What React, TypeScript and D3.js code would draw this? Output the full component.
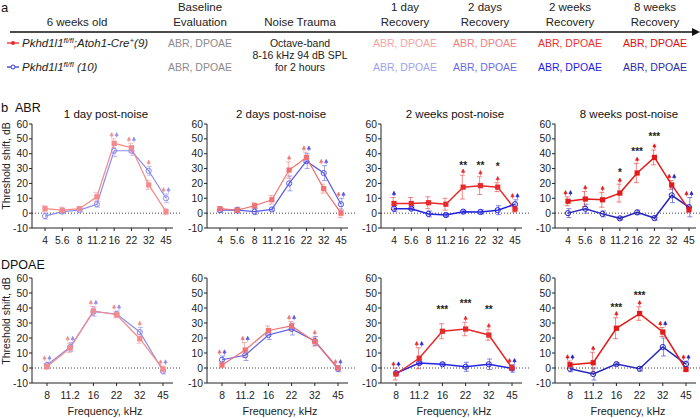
import React from "react";
import * as d3 from "d3";

const abrFreqs = ["4", "5.6", "8", "11.2", "16", "22", "32", "45"];
const dpoaeFreqs = ["8", "11.2", "16", "22", "32", "45"];
const panelTitles = ["1 day post-noise", "2 days post-noise", "2 weeks post-noise", "8 weeks post-noise"];
const yTicks = [-10, 0, 10, 20, 30, 40, 50, 60];

// ABR means / SEM
const abrRed1d = [3, 2, 3, 11, 47, 44, 19, 1];
const abrBlue1d = [-2, 1, 2, 6, 42, 42, 28.5, 10];
const abrRedErr1d = [2, 2, 1, 3, 3, 3, 3, 2];
const abrBlueErr1d = [2, 1, 1, 2, 4, 3, 3, 3];
const abrFlags1d = ["", "", "", "", "rb", "rb", "r", "rb"];

const abrRed2d = [3, 2, 5, 9, 29, 37.5, 16.5, 0];
const abrBlue2d = [2, 2, 1, 2.5, 20, 35, 27, 6];
const abrRedErr2d = [1.5, 1.5, 2, 3, 5.5, 3.5, 3, 3];
const abrBlueErr2d = [1.5, 2, 2, 1, 5, 5, 5, 4];
const abrFlags2d = ["", "", "", "", "r", "rb", "rb", "rb"];

const abrRed2w = [6.5, 6.5, 7, 6, 17.5, 18.5, 17.5, 2.7];
const abrBlue2w = [3, 3, -0.5, -1.3, 1, 0.8, 2, 6];
const abrRedErr2w = [4, 4, 4, 4, 8, 6, 3, 2];
const abrBlueErr2w = [2, 1, 2, 1, 1, 1.5, 3, 3];
const abrFlags2w = ["b", "", "", "", "r", "r", "r", "rb"];
const abrStars2w = [{ i: 4, t: "**", v: 33.5 }, { i: 5, t: "**", v: 33.5 }, { i: 6, t: "*", v: 33 }];

const abrRed8w = [8, 9.5, 9, 13.5, 27, 37.5, 19, 2.5];
const abrBlue8w = [0, 3, -0.5, -3.5, 0.5, -3.3, 12, 4];
const abrRedErr8w = [3, 5, 5, 6, 6.5, 5, 3, 2];
const abrBlueErr8w = [3, 3, 2, 1, 1.5, 1.5, 5, 6.5];
const abrFlags8w = ["rb", "r", "r", "r", "r", "r", "rb", "rb"];
const abrStars8w = [{ i: 3, t: "*", v: 29 }, { i: 4, t: "***", v: 43 }, { i: 5, t: "***", v: 53 }];

// DPOAE means / SEM
const dpRed1d = [1, 13.3, 38, 35.5, 19.5, -0.7];
const dpBlue1d = [2, 14, 37.5, 36, 24, -2];
const dpRedErr1d = [2, 3, 3, 2, 3, 2];
const dpBlueErr1d = [2, 3, 3, 2, 3, 2];
const dpFlags1d = ["rb", "rb", "rb", "rb", "r", "rb"];

const dpRed2d = [2, 12, 25, 28, 17.5, 0];
const dpBlue2d = [5.5, 8.5, 22, 26, 18, -0.5];
const dpRedErr2d = [2, 5, 3, 3, 3, 1];
const dpBlueErr2d = [2.5, 3.5, 3, 4, 3, 2];
const dpFlags2d = ["rb", "rb", "", "rb", "r", "rb"];

const dpRed2w = [-4, 6.5, 24.5, 26, 22, 0];
const dpBlue2w = [-3.5, 3.3, 2.5, 0.8, 2.5, -0.3];
const dpRedErr2w = [4, 7, 5, 4.5, 3.5, 1.5];
const dpBlueErr2w = [1, 1, 1, 3, 3.5, 2.5];
const dpFlags2w = ["rb", "rb", "", "r", "r", "rb"];
const dpStars2w = [{ i: 2, t: "***", v: 41 }, { i: 3, t: "***", v: 45 }, { i: 4, t: "**", v: 40.6 }];

const dpRed8w = [2.2, 3.5, 26.5, 36.3, 24, -1];
const dpBlue8w = [-0.5, -4, 2.6, -0.5, 14, 2.6];
const dpRedErr8w = [2.5, 7, 7, 4.5, 3, 1];
const dpBlueErr8w = [2, 4, 1, 1.5, 6, 2];
const dpFlags8w = ["rb", "r", "r", "r", "rb", "rb"];
const dpStars8w = [{ i: 2, t: "***", v: 42 }, { i: 3, t: "***", v: 50 }];

const recoveryCols = ["1 day", "2 days", "2 weeks", "8 weeks"];
const redShades = ["#f58a8a", "#f07272", "#e82a2a", "#e21a1a"];
const blueShades = ["#8c8cf0", "#5a5ae6", "#2424e0", "#2626bc"];
const headRed = ["#f4a4a4", "#f08282", "#e83232", "#e01010"];
const headBlue = ["#a0a0f4", "#6a6ae8", "#1e1ee6", "#2a2ab0"];

const FONT = "'Liberation Sans', Arial, Helvetica, sans-serif";
const AX = [32, 207, 381, 555];

type Star = { i: number; t: string; v: number };

function Panel(props: {
  ax: number; freqs: string[]; y: d3.ScaleLinear<number, number>; xPad: [number, number];
  red: number[]; blue: number[]; redErr: number[]; blueErr: number[]; flags: string[];
  stars?: Star[]; rc: string; bc: string; title?: string; yLabel: boolean; yLabelY: number; xLabel: boolean;
}) {
  const { ax, freqs, y, red, blue, redErr, blueErr, flags, stars, rc, bc, title, yLabel, xLabel } = props;
  const x = d3.scalePoint<string>().domain(freqs).range([ax + props.xPad[0], ax + props.xPad[1]]);
  const y0 = y(-10), y60 = y(60);
  const line = d3.line<number>().x((_, i) => x(freqs[i]) as number).y((d) => y(d));
  const thick = rc === redShades[2] || rc === redShades[3] ? 1.5 : 1.2;
  return (
    <g fontFamily={FONT}>
      {title && (
        <text x={ax + 74} y={y60 - 6} textAnchor="middle" fontSize={11.5} fill="#111">{title}</text>
      )}
      <line x1={ax} x2={ax + 148} y1={y(0)} y2={y(0)} stroke="#444" strokeWidth={1} strokeDasharray="1,2" />
      <line x1={ax} x2={ax} y1={y60} y2={y0} stroke="#222" strokeWidth={1} />
      <line x1={ax} x2={ax + 141} y1={y0} y2={y0} stroke="#222" strokeWidth={1} />
      {yTicks.map((t) => (
        <g key={t}>
          <line x1={ax - 3} x2={ax} y1={y(t)} y2={y(t)} stroke="#222" />
          <text x={ax - 4} y={y(t) + 3.6} textAnchor="end" fontSize={10.3} fill="#222">{t}</text>
        </g>
      ))}
      {freqs.map((f) => (
        <g key={f}>
          <line x1={x(f)} x2={x(f)} y1={y0} y2={y0 + 3} stroke="#222" />
          <text x={x(f)} y={y0 + 15.5} textAnchor="middle" fontSize={10.3} fill="#222">{f}</text>
        </g>
      ))}
      {yLabel && (
        <text transform={`translate(10,${props.yLabelY}) rotate(-90)`} textAnchor="middle" fontSize={10.5} fill="#222">
          Threshold shift, dB
        </text>
      )}
      {xLabel && (
        <text x={ax + 73} y={y0 + 32} textAnchor="middle" fontSize={10.8} fill="#222">Frequency, kHz</text>
      )}
      {[{ v: red, e: redErr, c: rc, dx: -0.8 }, { v: blue, e: blueErr, c: bc, dx: 0.8 }].map((s, k) => (
        <g key={k} stroke={s.c} strokeOpacity={0.55} strokeWidth={1}>
          {s.v.map((v, i) => {
            const cx = (x(freqs[i]) as number) + s.dx;
            return (
              <g key={i}>
                <line x1={cx} x2={cx} y1={y(v - s.e[i])} y2={y(v + s.e[i])} />
                <line x1={cx - 2.5} x2={cx + 2.5} y1={y(v - s.e[i])} y2={y(v - s.e[i])} />
                <line x1={cx - 2.5} x2={cx + 2.5} y1={y(v + s.e[i])} y2={y(v + s.e[i])} />
              </g>
            );
          })}
        </g>
      ))}
      <path d={line(blue) || ""} fill="none" stroke={bc} strokeWidth={thick} />
      <path d={line(red) || ""} fill="none" stroke={rc} strokeWidth={thick} />
      {blue.map((v, i) => (
        <circle key={i} cx={x(freqs[i])} cy={y(v)} r={2.6} fill="none" stroke={bc} strokeWidth={1} />
      ))}
      {red.map((v, i) => (
        <rect key={i} x={(x(freqs[i]) as number) - 2.6} y={y(v) - 2.6} width={5.2} height={5.2} fill={rc} />
      ))}
      {flags.map((f, i) => {
        if (!f) return null;
        const top = Math.max(red[i] + redErr[i], blue[i] + blueErr[i]);
        const my = y(top) - 3;
        const cx = x(freqs[i]) as number;
        const items = f === "rb" ? [{ c: rc, dx: -2.5 }, { c: bc, dx: 2.5 }] : [{ c: f === "r" ? rc : bc, dx: 0 }];
        return (
          <g key={i}>
            {items.map((m, k) => (
              <path key={k} d={`M${cx + m.dx - 1.6},${my} L${cx + m.dx},${my - 3.2} L${cx + m.dx + 1.6},${my} Z M${cx + m.dx},${my} L${cx + m.dx},${my + 1.8}`}
                fill={m.c} stroke={m.c} strokeWidth={0.7} />
            ))}
          </g>
        );
      })}
      {(stars || []).map((s, k) => (
        <text key={k} x={x(freqs[s.i])} y={y(s.v) + 6} textAnchor="middle" fontSize={10} fontWeight="bold" fill="#222">
          {s.t}
        </text>
      ))}
    </g>
  );
}

export default function App() {
  const yAbr = d3.scaleLinear().domain([-10, 60]).range([228, 124]);
  const yDp = d3.scaleLinear().domain([-10, 60]).range([383, 278]);
  const abrSets = [
    [abrRed1d, abrBlue1d, abrRedErr1d, abrBlueErr1d, abrFlags1d, undefined],
    [abrRed2d, abrBlue2d, abrRedErr2d, abrBlueErr2d, abrFlags2d, undefined],
    [abrRed2w, abrBlue2w, abrRedErr2w, abrBlueErr2w, abrFlags2w, abrStars2w],
    [abrRed8w, abrBlue8w, abrRedErr8w, abrBlueErr8w, abrFlags8w, abrStars8w],
  ] as any[];
  const dpSets = [
    [dpRed1d, dpBlue1d, dpRedErr1d, dpBlueErr1d, dpFlags1d, undefined],
    [dpRed2d, dpBlue2d, dpRedErr2d, dpBlueErr2d, dpFlags2d, undefined],
    [dpRed2w, dpBlue2w, dpRedErr2w, dpBlueErr2w, dpFlags2w, dpStars2w],
    [dpRed8w, dpBlue8w, dpRedErr8w, dpBlueErr8w, dpFlags8w, dpStars8w],
  ] as any[];
  const colX = [405, 485, 570, 655];
  return (
    <svg width={700} height={418} style={{ position: "absolute", left: 0, top: 0, background: "#fff" }} fontFamily={FONT}>
      <text x={1} y={12} fontSize={13} fill="#111">a</text>
      <text x={77} y={26} textAnchor="middle" fontSize={11.5} fill="#222">6 weeks old</text>
      <text x={200} y={11} textAnchor="middle" fontSize={11.5} fill="#222">Baseline</text>
      <text x={200} y={26} textAnchor="middle" fontSize={11.5} fill="#222">Evaluation</text>
      <text x={300} y={26} textAnchor="middle" fontSize={11.5} fill="#222">Noise Trauma</text>
      {recoveryCols.map((c, i) => (
        <g key={c}>
          <text x={colX[i]} y={11} textAnchor="middle" fontSize={11.5} fill="#222">{c}</text>
          <text x={colX[i]} y={26} textAnchor="middle" fontSize={11.5} fill="#222">Recovery</text>
          <text x={colX[i]} y={47} textAnchor="middle" fontSize={10.5} fill={headRed[i]}>ABR, DPOAE</text>
          <text x={colX[i]} y={71} textAnchor="middle" fontSize={10.5} fill={headBlue[i]}>ABR, DPOAE</text>
        </g>
      ))}
      <line x1={10} x2={693} y1={32} y2={32} stroke="#111" strokeWidth={1.3} />
      <path d="M692,28 L700,32 L692,36 Z" fill="#111" />
      <line x1={7} x2={19} y1={43} y2={43} stroke="#e82a2a" strokeWidth={1.3} />
      <circle cx={13} cy={43} r={2} fill="#e82a2a" />
      <line x1={7} x2={19} y1={67} y2={67} stroke="#3a3ad0" strokeWidth={1.3} />
      <circle cx={13} cy={67} r={2} fill="#fff" stroke="#3a3ad0" strokeWidth={1} />
      <text x={22} y={47} fontSize={11.5} fontStyle="italic" fill="#222">
        Pkhd1l1<tspan dy={-4} fontSize={8}>fl/fl</tspan>
        <tspan dy={4}>;Atoh1-Cre</tspan>
        <tspan dy={-4} fontSize={8}>+</tspan>
        <tspan dy={4}>(9)</tspan>
      </text>
      <text x={22} y={71} fontSize={11.5} fontStyle="italic" fill="#222">
        Pkhd1l1<tspan dy={-4} fontSize={8}>fl/fl</tspan>
        <tspan dy={4}> (10)</tspan>
      </text>
      <text x={200} y={47} textAnchor="middle" fontSize={10.5} fill="#8a8a8a">ABR, DPOAE</text>
      <text x={200} y={71} textAnchor="middle" fontSize={10.5} fill="#8a8a8a">ABR, DPOAE</text>
      <text x={300} y={47} textAnchor="middle" fontSize={10.5} fill="#222">Octave-band</text>
      <text x={300} y={59} textAnchor="middle" fontSize={10.5} fill="#222">8-16 kHz 94 dB SPL</text>
      <text x={300} y={71} textAnchor="middle" fontSize={10.5} fill="#222">for 2 hours</text>

      <text x={1} y={112} fontSize={13} fill="#111">b</text>
      <text x={15} y={112} fontSize={12.5} fill="#111">ABR</text>
      <text x={1} y={269} fontSize={12.5} fill="#111">DPOAE</text>
      {abrSets.map((s, i) => (
        <Panel key={"a" + i} ax={AX[i]} freqs={abrFreqs} y={yAbr} xPad={[13, 134]}
          red={s[0]} blue={s[1]} redErr={s[2]} blueErr={s[3]} flags={s[4]} stars={s[5]}
          rc={redShades[i]} bc={blueShades[i]} title={panelTitles[i]} yLabel={i === 0} yLabelY={166} xLabel={false} />
      ))}
      {dpSets.map((s, i) => (
        <Panel key={"d" + i} ax={AX[i]} freqs={dpoaeFreqs} y={yDp} xPad={[15, 131]}
          red={s[0]} blue={s[1]} redErr={s[2]} blueErr={s[3]} flags={s[4]} stars={s[5]}
          rc={redShades[i]} bc={blueShades[i]} yLabel={i === 0} yLabelY={321} xLabel={true} />
      ))}
    </svg>
  );
}
